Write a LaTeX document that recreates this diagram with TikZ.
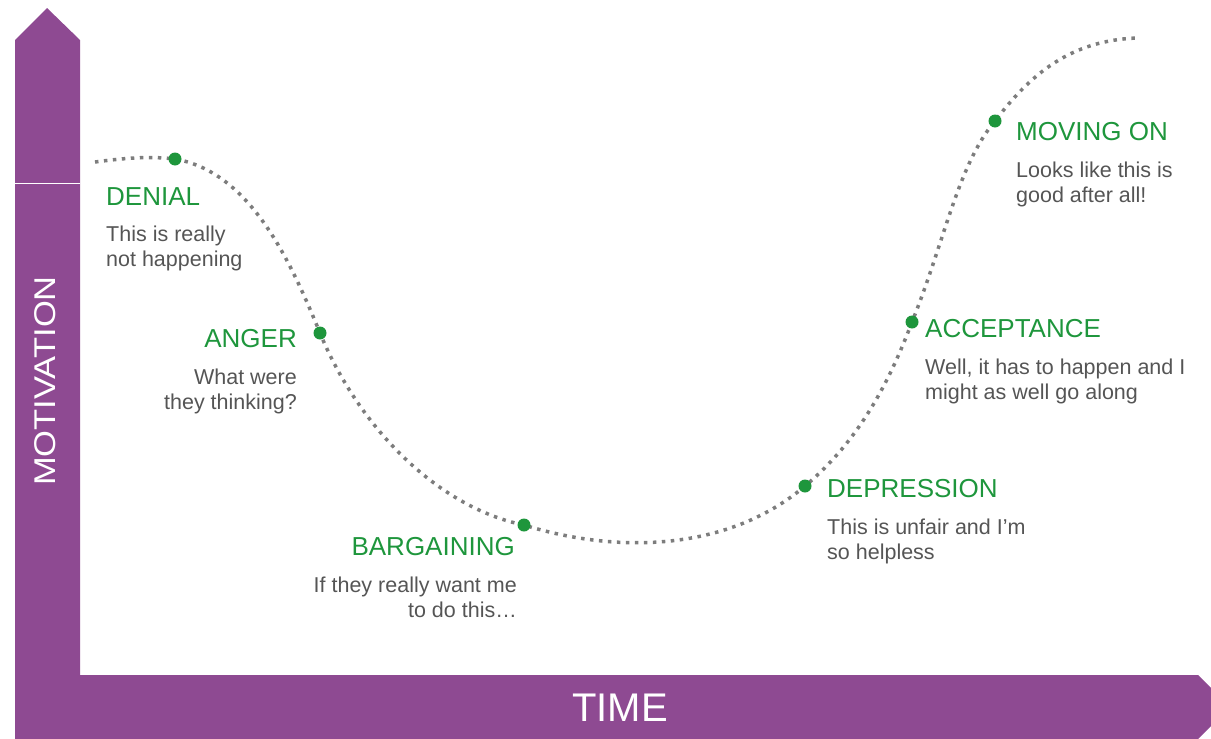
\documentclass[tikz,border=0pt]{standalone}
\usepackage{fontspec}
\setmainfont{Liberation Sans}
\usetikzlibrary{positioning}
\definecolor{axispurple}{RGB}{142,74,146}
\definecolor{stagegreen}{RGB}{30,150,60}
\definecolor{dotgray}{RGB}{125,125,125}
\definecolor{textgray}{RGB}{85,85,85}
\tikzset{
    stage/.style={
           text=stagegreen,
           font=\fontsize{26}{30}\selectfont,
           inner sep=0pt,
           },
}
\tikzset{
    saying/.style={
           text=textgray,
           font=\fontsize{21.5}{25}\selectfont,
           inner sep=0pt,
           },
}
\tikzset{
    stagedot/.style={
           circle,
           fill=stagegreen,
           inner sep=0pt,
           minimum size=13pt,
           },
}
\tikzset{
    dotline/.style={
           draw=dotgray,
           line width=3.5pt,
           dash pattern=on 3.5pt off 5.5pt,
           },
}
\tikzset{
    axislabel/.style={
           text=white,
           inner sep=0pt,
           },
}

\begin{document}
\begin{tikzpicture}[x=1pt,y=-1pt]
\clip (0,0) rectangle (1211,739);
\fill[axispurple] (15,739) -- (15,40) -- (47,8) -- (80,40) -- (80,675) -- (1198,675) -- (1230,707) -- (1198,739) -- cycle;
\draw[white,line width=0.8pt] (15,183) -- (80,183);
\node[axislabel,font=\fontsize{30}{34}\selectfont,rotate=90,xscale=1.15](motivation) at (45,381){MOTIVATION};
\node[axislabel,font=\fontsize{40}{44}\selectfont](time) at (620,708){TIME};
\coordinate (start) at (95,162);
\coordinate (denialpt) at (175,159);
\coordinate (angerpt) at (320,333);
\coordinate (bargainpt) at (524,525);
\coordinate (depressionpt) at (805,486);
\coordinate (acceptpt) at (912,322);
\coordinate (movingpt) at (995,121);
\coordinate (finish) at (1138,38);
\draw[dotline] (start) .. controls (125,158) and (150,156) .. (denialpt)
  .. controls (250,172) and (290,260) .. (angerpt)
  .. controls (360,430) and (440,508) .. (bargainpt)
  .. controls (620,555) and (730,550) .. (depressionpt)
  .. controls (860,440) and (890,380) .. (acceptpt)
  .. controls (945,240) and (958,165) .. (movingpt)
  .. controls (1030,75) and (1070,40) .. (finish);
\node[stagedot](denial) at (denialpt){};
\node[stagedot](anger) at (angerpt){};
\node[stagedot](bargain) at (bargainpt){};
\node[stagedot](depression) at (depressionpt){};
\node[stagedot](accept) at (acceptpt){};
\node[stagedot](moving) at (movingpt){};
\node[stage,anchor=base west](denialT) at (106,205){DENIAL};
\node[saying,align=left,below right=21pt and 0pt of denialT.south west](denialD){This is really\\not happening};
\node[stage,anchor=base east](angerT) at (297,347){ANGER};
\node[saying,align=right,below left=21pt and 0pt of angerT.south east](angerD){What were\\they thinking?};
\node[stage,anchor=base east](bargainT) at (515,555){BARGAINING};
\node[saying,align=right,below left=21pt and -2pt of bargainT.south east](bargainD){If they really want me\\to do this\dots};
\node[stage,anchor=base west](depressionT) at (827,497){DEPRESSION};
\node[saying,align=left,below right=21pt and 0pt of depressionT.south west](depressionD){This is unfair and I’m\\so helpless};
\node[stage,anchor=base west](acceptT) at (925,337){ACCEPTANCE};
\node[saying,align=left,below right=21pt and 0pt of acceptT.south west](acceptD){Well, it has to happen and I\\might as well go along};
\node[stage,anchor=base west](movingT) at (1016,140){MOVING ON};
\node[saying,align=left,below right=21pt and 0pt of movingT.south west](movingD){Looks like this is\\good after all!};
\end{tikzpicture}
\end{document}
